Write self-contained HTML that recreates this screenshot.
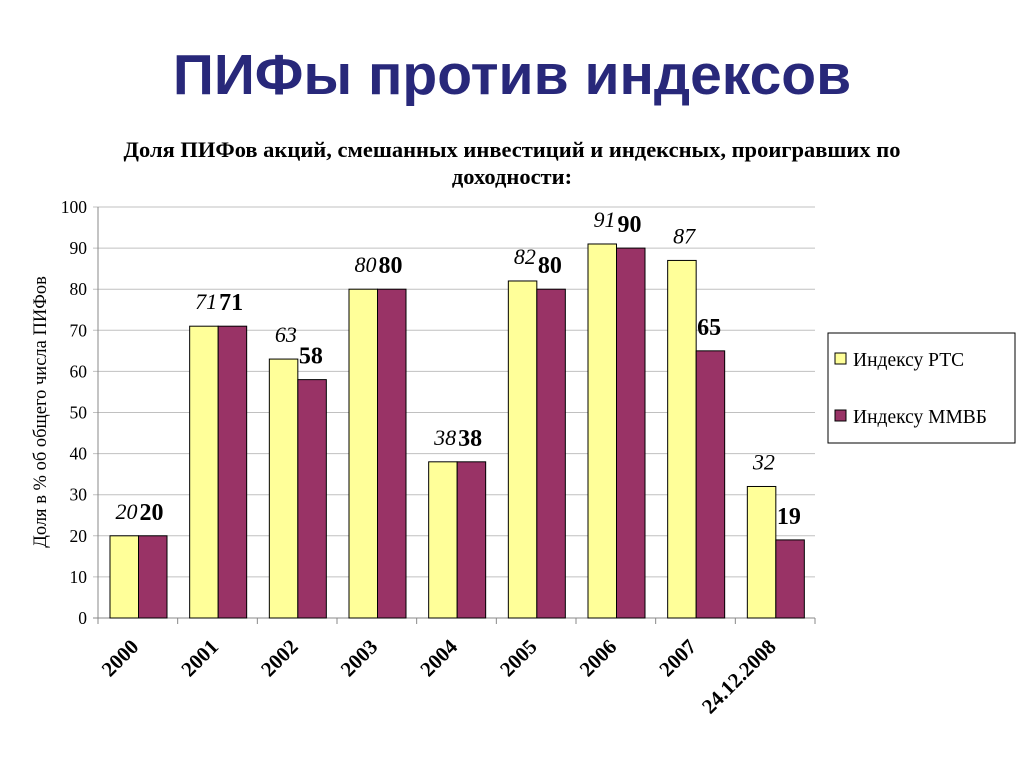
<!DOCTYPE html>
<html><head><meta charset="utf-8"><style>
body{margin:0;background:#fff;width:1024px;height:768px;overflow:hidden;font-family:"Liberation Serif",serif}
</style></head><body>
<svg width="1024" height="768" xmlns="http://www.w3.org/2000/svg">
<text x="512" y="94" text-anchor="middle" font-family="Liberation Sans, sans-serif" font-weight="bold" font-size="57" fill="#28287a">ПИФы против индексов</text>
<text x="512" y="157" text-anchor="middle" font-weight="bold" font-size="22.5">Доля ПИФов акций, смешанных инвестиций и индексных, проигравших по</text>
<text x="512" y="184" text-anchor="middle" font-weight="bold" font-size="22.5">доходности:</text>
<text transform="translate(46,412) rotate(-90)" text-anchor="middle" font-size="18.5">Доля в % об общего числа ПИФов</text>
<g id="grid"></g><g id="bars"></g><g id="labels"></g>
<g>
<rect x="828" y="333" width="187" height="110" fill="#fff" stroke="#000"/>
<rect x="835" y="353" width="11" height="11" fill="#ffff99" stroke="#000"/>
<text x="853" y="366" font-size="19.5">Индексу РТС</text>
<rect x="835" y="410" width="11" height="11" fill="#993366" stroke="#000"/>
<text x="853" y="423" font-size="19.5">Индексу ММВБ</text>
</g>
</svg>
<script>
const categories=["2000","2001","2002","2003","2004","2005","2006","2007","24.12.2008"];
const rtsValues=[20,71,63,80,38,82,91,87,32];
const micexValues=[20,71,58,80,38,80,90,65,19];
const yTicks=[0,10,20,30,40,50,60,70,80,90,100];
const NS="http://www.w3.org/2000/svg";
const x0=98,x1=815,y0=618,y100=207;
const cw=(x1-x0)/categories.length;
const yS=v=>y0-(y0-y100)*v/100;
const xC=i=>x0+cw*i;
function mk(t,a,p){const e=document.createElementNS(NS,t);for(const k in a)e.setAttribute(k,a[k]);p.appendChild(e);return e;}
const g=document.getElementById('grid'),b=document.getElementById('bars'),l=document.getElementById('labels');
yTicks.forEach(v=>{
 const ln=mk('line',{x1:x0-5,x2:x1,y1:yS(v),y2:yS(v),stroke:v===0?'#888':'#c0c0c0'},g);
 
 
 const t=mk('text',{x:87,y:yS(v)+6,'text-anchor':'end','font-size':17.5},g);t.textContent=v;
 
 
});
const ax=mk('line',{x1:x0,x2:x0,y1:y100,y2:y0,stroke:'#888'},g);


categories.forEach((c,i)=>{
 const tk=mk('line',{x1:xC(i),x2:xC(i),y1:y0,y2:y0+6,stroke:'#888'},g);
 
 
 const bx=xC(i)+12,bw=28.5;
 const r1=mk('rect',{x:bx,y:yS(rtsValues[i]),width:bw,height:y0-yS(rtsValues[i]),fill:'#ffff99',stroke:'#000','stroke-width':1},b);
 
 
 const r2=mk('rect',{x:bx+bw,y:yS(micexValues[i]),width:bw,height:y0-yS(micexValues[i]),fill:'#993366',stroke:'#000','stroke-width':1},b);
 
 
 const t1=mk('text',{x:bx+bw-1,y:yS(rtsValues[i])-17,'text-anchor':'end','font-size':22,'font-style':'italic'},l);t1.textContent=rtsValues[i];
 
 
 const t2=mk('text',{x:bx+bw+1,y:yS(micexValues[i])-16,'text-anchor':'start','font-size':24,'font-weight':'bold'},l);t2.textContent=micexValues[i];
 
 
 const cx=xC(i)+cw/2+2;
 const xt=mk('text',{transform:`translate(${cx},${y0+30}) rotate(-45)`,'text-anchor':'end','font-size':21,'font-weight':'bold'},g);xt.textContent=c;
 
 
});
const ex=mk('line',{x1:x1,x2:x1,y1:y0,y2:y0+6,stroke:'#888'},g);


</script>
</body></html>
